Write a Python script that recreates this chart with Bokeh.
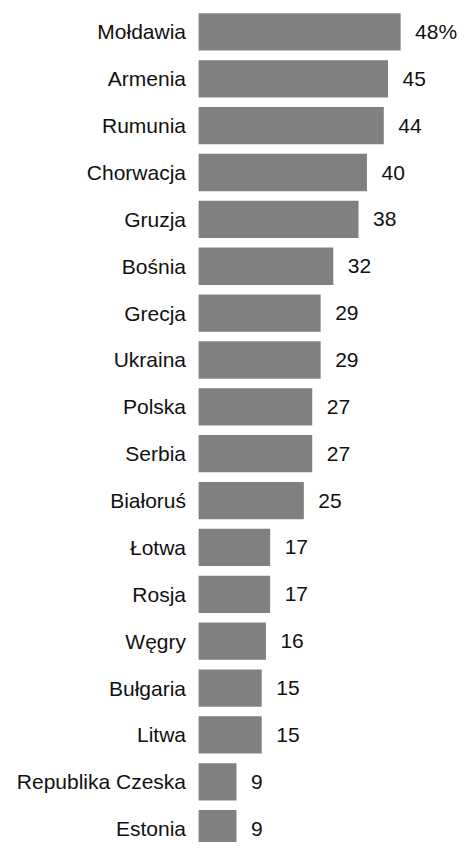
from bokeh.plotting import figure
from bokeh.models import ColumnDataSource, Range1d
from bokeh.core.properties import value
from bokeh.embed import file_html
from bokeh.resources import INLINE

countries = ["Mołdawia", "Armenia", "Rumunia", "Chorwacja", "Gruzja", "Bośnia",
             "Grecja", "Ukraina", "Polska", "Serbia", "Białoruś", "Łotwa",
             "Rosja", "Węgry", "Bułgaria", "Litwa", "Republika Czeska", "Estonia"]
values = [48, 45, 44, 40, 38, 32, 29, 29, 27, 27, 25, 17, 17, 16, 15, 15, 9, 9]
value_labels = ["48%"] + [str(v) for v in values[1:]]

W, H = 460, 842
sx, sy = W / 476, H / 858
px_per_unit = 4.355 * sx
zero_px = 205 * sx
pitch = 47.76 * sy
first_center = 32 * sy
bar_h = 38 * sy / pitch

idx = list(range(len(countries)))
src = ColumnDataSource(dict(y=idx, v=values, name=countries, lab=value_labels))

p = figure(width=W, height=H, output_backend="svg", toolbar_location=None,
           x_range=Range1d(-zero_px / px_per_unit, (W - zero_px) / px_per_unit),
           y_range=Range1d((H - first_center) / pitch, -first_center / pitch),
           min_border=0, min_border_left=0, min_border_right=0,
           min_border_top=0, min_border_bottom=0)
p.outline_line_color = None
p.xaxis.visible = False
p.yaxis.visible = False
p.grid.visible = False
p.background_fill_color = "white"
p.border_fill_color = "white"

p.hbar(y="y", left=0, right="v", height=bar_h, source=src,
       fill_color="#808080", line_color=None)

p.text(x=0, y="y", text="name", source=src, x_offset=-13 * sx,
       text_align="right", text_baseline="middle",
       text_font=value("Liberation Sans"), text_font_size="21px",
       text_color="#111111")
p.text(x="v", y="y", text="lab", source=src, x_offset=15 * sx,
       text_align="left", text_baseline="middle",
       text_font=value("Liberation Sans"), text_font_size="21px",
       text_color="#111111")

open("out.html", "w").write(file_html(p, INLINE))
